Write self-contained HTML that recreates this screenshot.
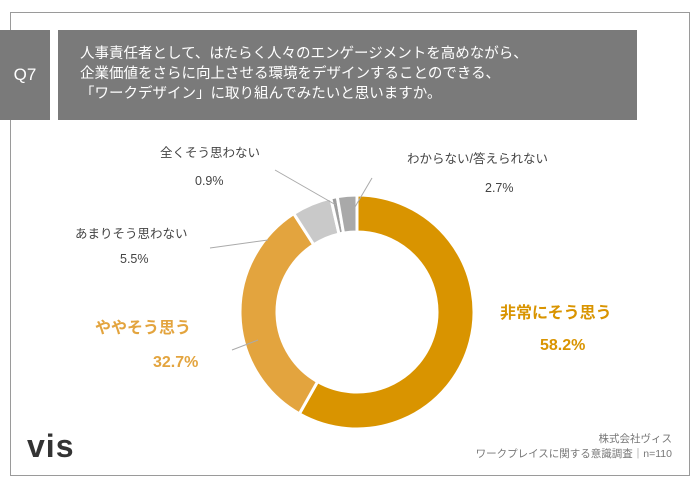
<!DOCTYPE html>
<html><head><meta charset="utf-8"><style>
body{margin:0;width:700px;height:484px;background:#fff;overflow:hidden;font-family:"Liberation Sans","Noto Sans CJK JP",sans-serif;position:relative}
.a{position:absolute}
</style></head><body>
<div class="a" style="left:10px;top:12px;width:678px;height:462px;border:1px solid #9a9a9a"></div>
<div class="a" style="left:0;top:30px;width:50px;height:90px;background:#7a7a7a;color:#fff;font-size:17px;line-height:90px;text-align:center">Q7</div>
<div class="a" style="left:58px;top:30px;width:579px;height:90px;background:#7a7a7a;color:#fff;font-size:14.5px;line-height:20px;box-sizing:border-box;padding:14px 0 0 22px">人事責任者として、はたらく人々のエンゲージメントを高めながら、<br>企業価値をさらに向上させる環境をデザインすることのできる、<br>「ワークデザイン」に取り組んでみたいと思いますか。</div>
<svg class="a" style="left:0;top:0" width="700" height="484"></svg>
<div class="a" style="left:27px;top:428px;font-size:32px;font-weight:900;color:#333;letter-spacing:1px">vis</div>
<div class="a" style="right:28px;top:432px;font-size:10.5px;color:#777;text-align:right;line-height:15px">株式会社ヴィス<br>ワークプレイスに関する意識調査｜n=110</div>
<script>
const categories=["非常にそう思う","ややそう思う","あまりそう思わない","全くそう思わない","わからない/答えられない"];
const values=[58.2,32.7,5.5,0.9,2.7];
const colors=["#D99400","#E3A43E","#C9C9C9","#9E9E9E","#A9A9A9"];
const labelPos=[[500,318,540,350,"#D99400",16,true],[95,333,153,367,"#E3A43E",16,true],[75,238,120,263,"#444",12.5,false],[160,157,195,185,"#444",12.5,false],[407,163,485,192,"#444",12.5,false]];
const leaders=[null,[[258,340],[232,350]],[[268,240],[210,248]],[[336,205],[275,170]],[[352,212],[372,178]]];
const svg=document.querySelector('svg');const NS="http://www.w3.org/2000/svg";
const cx=357,cy=312,R=117,r=80;
const total=values.reduce((a,b)=>a+b,0);
let acc=0;
function pt(a,rad){return [cx+rad*Math.sin(a),cy-rad*Math.cos(a)];}
values.forEach((v,i)=>{
 const a0=acc/total*2*Math.PI,a1=(acc+v)/total*2*Math.PI;acc+=v;
 const [x0,y0]=pt(a0,R),[x1,y1]=pt(a1,R),[x2,y2]=pt(a1,r),[x3,y3]=pt(a0,r);
 const lg=(a1-a0)>Math.PI?1:0;
 const p=document.createElementNS(NS,'path');
 p.setAttribute('d',`M${x0},${y0}A${R},${R} 0 ${lg} 1 ${x1},${y1}L${x2},${y2}A${r},${r} 0 ${lg} 0 ${x3},${y3}Z`);
 p.setAttribute('fill',colors[i]);p.setAttribute('stroke','#fff');p.setAttribute('stroke-width','3');
 
 
 svg.appendChild(p);
 if(leaders[i]){const l=document.createElementNS(NS,'polyline');
 l.setAttribute('points',leaders[i].map(q=>q.join(',')).join(' '));l.setAttribute('fill','none');l.setAttribute('stroke','#aaa');l.setAttribute('stroke-width','1');
 
 
 svg.appendChild(l);}
 const L=labelPos[i];
 [[categories[i],L[0],L[1]],[v.toFixed(1)+'%',L[2],L[3]]].forEach(([s,x,y])=>{
  const t=document.createElementNS(NS,'text');t.textContent=s;t.setAttribute('x',x);t.setAttribute('y',y);
  t.setAttribute('fill',L[4]);t.setAttribute('font-size',L[5]);if(L[6])t.setAttribute('font-weight','bold');
  
  
  svg.appendChild(t);});
});
</script>
</body></html>
